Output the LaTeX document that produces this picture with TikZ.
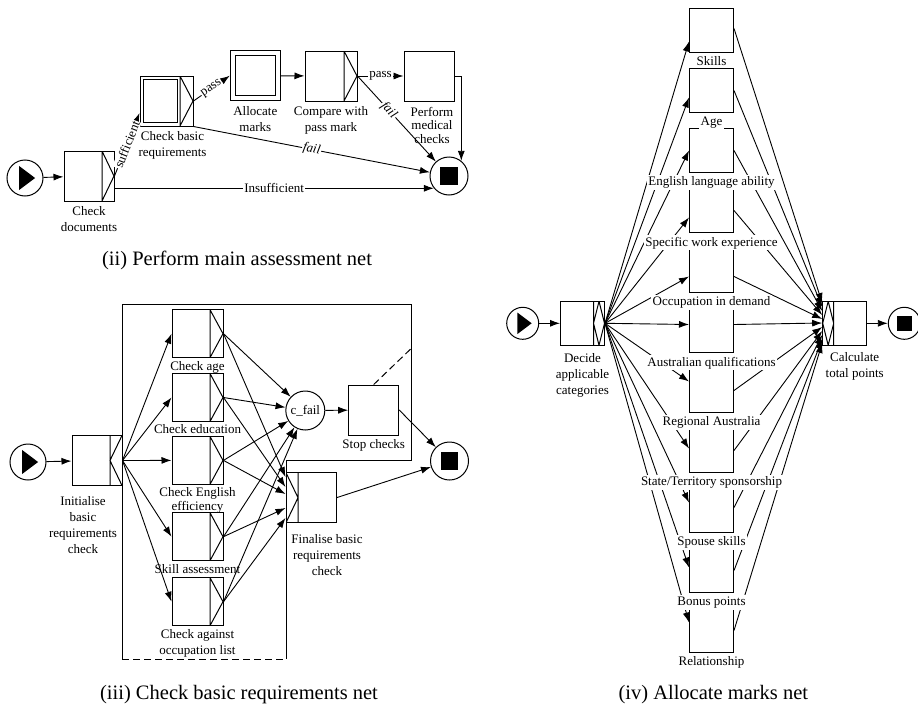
\documentclass[tikz,border=0pt]{standalone}
\usepackage{fontspec}
\setmainfont{Liberation Serif}
\usetikzlibrary{arrows.meta}
\usetikzlibrary{positioning}

\newcommand{\lbl}{\fontsize{13}{16}\selectfont}
\newcommand{\netcaption}{\fontsize{20.5}{24}\selectfont}
\newcommand{\ppb}{path picture bounding box}
\newcommand{\catlist}{%
	catskills/Skills/-11/2, catage/Age/-7/0, cateng/English language ability/0/0,
	catswe/Specific work experience/-7/0, catocc/Occupation in demand/-6/-6,
	cataus/Australian qualifications/6/6, catreg/Regional Australia/9/0,
	catstate/{State/Territory sponsorship}/2/0, catspouse/Spouse skills/8/3,
	catbonus/Bonus points/3/0, catrel/Relationship/8/0}

\begin{document}
\begin{tikzpicture}[
		x=1pt, y=-1pt,
		node distance=2pt,
		line width=0.9pt,
		arrow/.style={line width=0.9pt, -{Latex[length=10pt,width=7pt]}},
		task/.style={draw, line width=1pt, fill=white, minimum width=50pt, minimum height=50pt, inner sep=0pt},
		xorsplit/.style={path picture={\draw ([xshift=-#1]\ppb.north east) -- ([xshift=-#1]\ppb.south east) -- (\ppb.east) -- cycle;}},
		andsplit/.style={path picture={\draw ([xshift=-#1]\ppb.north east) -- ([xshift=-#1]\ppb.south east)
			(\ppb.north east) -- ([xshift=-#1]\ppb.east) -- (\ppb.south east);}},
		andjoin/.style={path picture={\draw ([xshift=#1]\ppb.north west) -- ([xshift=#1]\ppb.south west)
			(\ppb.north west) -- ([xshift=#1]\ppb.west) -- (\ppb.south west);}},
		orsplit/.style={path picture={\draw ([xshift=-#1]\ppb.north east) -- ([xshift=-#1]\ppb.south east)
			([xshift=-#1/2]\ppb.north east) -- (\ppb.east) -- ([xshift=-#1/2]\ppb.south east) -- ([xshift=-#1]\ppb.east) -- cycle;}},
		orjoin/.style={path picture={\draw ([xshift=#1]\ppb.north west) -- ([xshift=#1]\ppb.south west)
			([xshift=#1/2]\ppb.north west) -- ([xshift=#1]\ppb.west) -- ([xshift=#1/2]\ppb.south west) -- (\ppb.west) -- cycle;}},
		startcond/.style={circle, draw, line width=1pt, minimum size=2*#1, inner sep=0pt,
			path picture={\fill ([shift={(-0.33*#1,0.67*#1)}]\ppb.center) -- ++(0.89*#1,-0.67*#1) -- ++(-0.89*#1,-0.67*#1) -- cycle;}},
		endcond/.style={circle, draw, line width=1pt, minimum size=2*#1, inner sep=0pt,
			path picture={\fill ([shift={(-0.46*#1,-0.46*#1)}]\ppb.center) rectangle ++(0.92*#1,0.92*#1);}},
		condition/.style={circle, draw, line width=1pt, minimum size=39pt, inner sep=0pt, font=\lbl},
		elabel/.style={font=\lbl, fill=white, inner sep=1pt},
		catlabel/.style={font=\lbl, fill=white, inner sep=1.5pt},
		cancel/.style={line width=1pt, dash pattern=on 7pt off 4pt},
		every label/.style={font=\lbl, align=center, inner sep=0pt},
	]
	\useasboundingbox (0,0) rectangle (918,704);

	% (ii)
	\node (startii) [startcond=18pt] at (25,178) {};
	\node (cd) [task, xorsplit=12pt, label={[label distance=5pt]below:Check\\documents}] at (89,176) {};
	\node (cbr) [task, minimum width=53pt, xorsplit=13pt, label={[label distance=5pt, xshift=6pt]below:Check basic\\requirements}] at (166.5,101) {};
	\node (am) [task, label={[label distance=5pt]below:Allocate\\marks}] at (255.3,75.7) {};
	\node (cpm) [task, minimum width=52pt, xorsplit=13pt, label={[label distance=5pt]below:Compare with\\pass mark}] at (331,76) {};
	\node (pmc) [task, label={[label distance=5pt, xshift=3pt]below:Perform\\[-2.5pt]medical\\[-2.5pt]checks}] at (429,76) {};
	\node (endii) [endcond=19pt] at (449,176) {};
	\draw[line width=1pt] ([shift={(3.5,4)}]cbr.north west) rectangle ([shift={(-16.5,-4)}]cbr.south east);
	\draw[line width=1pt] ([shift={(5.5,5.5)}]am.north west) rectangle ([shift={(-5.5,-5.5)}]am.south east);

	\draw[arrow] (startii) -- (cd);
	\draw[arrow] (cd.east) -- node[elabel, sloped] {sufficient} ([yshift=-12pt]cbr.west);
	\draw[arrow] (cbr.east) -- node[elabel, sloped] {pass} (am.west);
	\draw[arrow] (cbr.south east) -- node[elabel, sloped, font=\lbl\itshape] {fail} (endii);
	\draw[arrow] (cd.east |- endii.219) -- node[elabel] {Insufficient} (endii.219);
	\draw[arrow] (am) -- (cpm);
	\draw[arrow] (cpm.east) -- node[elabel] {pass} (pmc.west);
	\draw[arrow] (cpm.east) -- node[elabel, sloped, pos=0.4, font=\lbl\itshape] {fail} (endii);
	\draw[arrow] (pmc.east) -| (endii.51);
	\node (capii) [font=\netcaption, anchor=base] at (237,265) {(ii) Perform main assessment net};

	% (iii)
	\node (startiii) [startcond=18pt] at (28,462) {};
	\node (init) [task, andsplit=12pt, label={[xshift=-14pt, label distance=10.5pt]below:Initialise\\basic\\requirements\\check}] at (97,460.5) {};
	\foreach \name/\txt/\ypos in {chkage/Check age/333.7, chkedu/Check education/397.5,
		chkeng/{Check English\\[-2pt]efficiency}/460.4, chkskill/Skill assessment/536.7,
		chkocc/{Check against\\occupation list}/601.7}
		\node (\name) [task, minimum width=51pt, minimum height=48pt, xorsplit=13pt, label={[label distance=2.5pt]below:\txt}] at (197.5,\ypos) {};
	\node (cfail) [condition] at (305.3,410.5) {c\_fail};
	\node (stop) [task, label={[label distance=4pt]below:Stop checks}] at (373.7,410) {};
	\node (endiii) [endcond=19pt] at (449.5,461) {};
	\node (fin) [task, andjoin=12pt, label={[xshift=16pt, label distance=10.5pt]below:Finalise basic\\requirements\\check}] at (311,497.7) {};
	\coordinate (region) at (411.7,348);
	\draw[line width=1pt] (286,659) -- (286,460) -- (411.7,460) -- (411.7,304) -- (122,304) -- (122,659);
	\draw[cancel] (122,659) -- (286,659);
	\draw[cancel] (stop.north) -- (region);

	\draw[arrow] (startiii) -- (init);
	\foreach \name in {chkage, chkedu, chkeng, chkskill, chkocc}
		\draw[arrow] (init.east) -- (\name.west);
	\foreach \name/\dy in {chkage/20.7, chkedu/10.7, chkeng/3.7, chkskill/-10.3, chkocc/-20.3} {
		\draw[arrow] (\name.east) -- (cfail);
		\draw[arrow] (\name.east) -- ([yshift=\dy pt]fin.west);
	}
	\draw[arrow] (cfail) -- (stop);
	\draw[arrow] (stop.east) -- (endiii);
	\draw[arrow] (fin.east) -- (endiii);
	\node (capiii) [font=\netcaption, anchor=base] at (239,699) {(iii) Check basic requirements net};

	% (iv)
	\node (startiv) [startcond=16pt] at (522.7,323.3) {};
	\node (dac) [task, minimum width=44pt, minimum height=44pt, orsplit=11pt, label={[label distance=7pt]below:Decide\\applicable\\categories}] at (582.5,323.3) {};
	\node (calc) [task, minimum width=44pt, minimum height=44pt, orjoin=11pt, label={[xshift=10pt, label distance=6.5pt]below:Calculate\\total points}] at (844.7,323.3) {};
	\node (endiv) [endcond=16pt] at (904.3,323.3) {};
	\foreach \name/\txt/\din/\dout [count=\i] in \catlist
		\node (\name) [task, minimum width=44pt, minimum height=44pt] at (711.5,30.5+60*\i-60) {};

	\draw[arrow] (startiv) -- (dac);
	\foreach \name/\txt/\din/\dout [count=\i] in \catlist {
		\draw[arrow] (dac.east) -- ([yshift=\din pt]\name.west);
		\draw[arrow] ([yshift=\dout pt]\name.east) -- ([yshift=24.3pt-4pt*\i]calc.west);
	}
	\draw[arrow] (calc) -- (endiv);
	\foreach \name/\txt/\din/\dout in \catlist
		\node (\name-lbl) [catlabel, below=of \name] {\txt};
	\node (capiv) [font=\netcaption, anchor=base] at (713.3,699) {(iv) Allocate marks net};
\end{tikzpicture}
\end{document}
